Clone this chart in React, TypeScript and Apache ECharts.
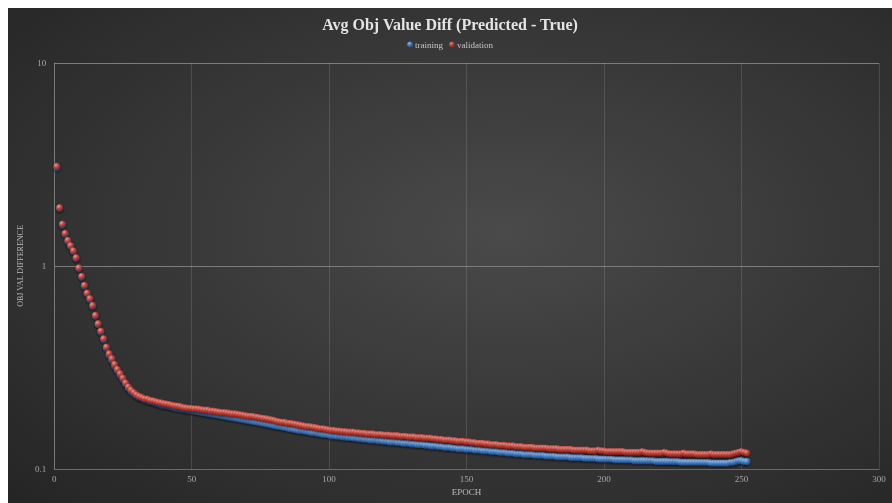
import React, { useEffect, useRef } from "react";
import * as echarts from "echarts";

const titleText = "Avg Obj Value Diff (Predicted - True)";
const seriesNames = ["training", "validation"];
const xTicks = { min: 0, max: 300, interval: 50 };
const yRange = { min: 0.1, max: 10 };

const validation = [
  3.10, 1.94, 1.61, 1.45, 1.34, 1.26, 1.19, 1.10, 0.98, 0.89,
  0.804, 0.736, 0.691, 0.640, 0.572, 0.520, 0.478, 0.439, 0.399, 0.370,
  0.350, 0.328, 0.310, 0.295, 0.281, 0.266, 0.254, 0.245, 0.238, 0.232,
  0.228, 0.225, 0.222, 0.221, 0.218, 0.217, 0.215, 0.213, 0.212, 0.210,
  0.209, 0.208, 0.206, 0.205, 0.204, 0.203, 0.201, 0.200, 0.199, 0.199,
  0.198, 0.198, 0.197, 0.196, 0.195, 0.195, 0.193, 0.193, 0.192, 0.191,
  0.190, 0.190, 0.189, 0.188, 0.187, 0.187, 0.186, 0.185, 0.184, 0.183,
  0.182, 0.182, 0.181, 0.180, 0.179, 0.178, 0.177, 0.176, 0.175, 0.174,
  0.172, 0.171, 0.170, 0.170, 0.168, 0.168, 0.167, 0.166, 0.165, 0.164,
  0.163, 0.162, 0.162, 0.161, 0.160, 0.159, 0.158, 0.158, 0.157, 0.156,
  0.155, 0.155, 0.154, 0.154, 0.153, 0.153, 0.152, 0.152, 0.152, 0.151,
  0.151, 0.150, 0.150, 0.149, 0.149, 0.149, 0.148, 0.148, 0.148, 0.147,
  0.147, 0.147, 0.146, 0.146, 0.146, 0.145, 0.145, 0.145, 0.144, 0.144,
  0.144, 0.143, 0.143, 0.143, 0.142, 0.142, 0.142, 0.141, 0.141, 0.140,
  0.140, 0.139, 0.139, 0.139, 0.138, 0.138, 0.137, 0.137, 0.137, 0.136,
  0.136, 0.135, 0.135, 0.134, 0.134, 0.134, 0.133, 0.133, 0.132, 0.132,
  0.132, 0.131, 0.131, 0.131, 0.130, 0.130, 0.130, 0.129, 0.129, 0.129,
  0.128, 0.128, 0.128, 0.128, 0.127, 0.127, 0.127, 0.127, 0.127, 0.126,
  0.126, 0.126, 0.126, 0.125, 0.125, 0.125, 0.125, 0.125, 0.124, 0.124,
  0.124, 0.124, 0.124, 0.124, 0.123, 0.123, 0.123, 0.124, 0.123, 0.123,
  0.122, 0.122, 0.122, 0.122, 0.122, 0.122, 0.122, 0.121, 0.121, 0.121,
  0.121, 0.121, 0.121, 0.122, 0.121, 0.120, 0.120, 0.120, 0.120, 0.120,
  0.120, 0.121, 0.120, 0.119, 0.119, 0.119, 0.119, 0.119, 0.120, 0.119,
  0.119, 0.119, 0.119, 0.118, 0.118, 0.118, 0.118, 0.118, 0.119, 0.118,
  0.118, 0.118, 0.118, 0.118, 0.118, 0.118, 0.119, 0.120, 0.121, 0.122,
  0.121, 0.120,
];

const training = [
  3.05, 1.92, 1.59, 1.43, 1.32, 1.25, 1.18, 1.09, 0.97, 0.88,
  0.795, 0.728, 0.683, 0.632, 0.565, 0.514, 0.472, 0.433, 0.393, 0.363,
  0.343, 0.322, 0.305, 0.290, 0.276, 0.262, 0.250, 0.241, 0.234, 0.229,
  0.225, 0.222, 0.219, 0.217, 0.215, 0.213, 0.211, 0.209, 0.207, 0.206,
  0.205, 0.203, 0.202, 0.200, 0.199, 0.198, 0.197, 0.196, 0.195, 0.194,
  0.193, 0.192, 0.191, 0.190, 0.189, 0.188, 0.187, 0.186, 0.185, 0.184,
  0.183, 0.182, 0.181, 0.180, 0.179, 0.178, 0.177, 0.176, 0.175, 0.174,
  0.173, 0.172, 0.171, 0.170, 0.169, 0.168, 0.167, 0.166, 0.165, 0.164,
  0.163, 0.162, 0.161, 0.160, 0.159, 0.158, 0.157, 0.156, 0.155, 0.155,
  0.154, 0.153, 0.152, 0.151, 0.151, 0.150, 0.149, 0.148, 0.148, 0.147,
  0.146, 0.146, 0.145, 0.145, 0.144, 0.144, 0.143, 0.143, 0.142, 0.142,
  0.141, 0.141, 0.140, 0.140, 0.139, 0.139, 0.139, 0.138, 0.138, 0.137,
  0.137, 0.136, 0.136, 0.136, 0.135, 0.135, 0.134, 0.134, 0.134, 0.133,
  0.133, 0.132, 0.132, 0.132, 0.131, 0.131, 0.130, 0.130, 0.130, 0.129,
  0.129, 0.128, 0.128, 0.128, 0.127, 0.127, 0.126, 0.126, 0.126, 0.125,
  0.125, 0.125, 0.124, 0.124, 0.124, 0.123, 0.123, 0.123, 0.122, 0.122,
  0.122, 0.121, 0.121, 0.121, 0.120, 0.120, 0.120, 0.119, 0.119, 0.119,
  0.118, 0.118, 0.118, 0.118, 0.117, 0.117, 0.117, 0.117, 0.116, 0.116,
  0.116, 0.116, 0.115, 0.115, 0.115, 0.115, 0.115, 0.114, 0.114, 0.114,
  0.114, 0.114, 0.113, 0.113, 0.113, 0.113, 0.113, 0.112, 0.112, 0.112,
  0.112, 0.112, 0.112, 0.111, 0.111, 0.111, 0.111, 0.111, 0.111, 0.111,
  0.110, 0.110, 0.110, 0.110, 0.110, 0.110, 0.110, 0.110, 0.109, 0.109,
  0.109, 0.109, 0.109, 0.109, 0.109, 0.109, 0.109, 0.108, 0.108, 0.108,
  0.108, 0.108, 0.108, 0.108, 0.108, 0.108, 0.108, 0.108, 0.107, 0.107,
  0.107, 0.107, 0.107, 0.107, 0.107, 0.108, 0.108, 0.109, 0.110, 0.110,
  0.109, 0.109,
];

const toPairs = (vals: number[]) => vals.map((v, i) => [i + 1, v]);

const ball = (hi: string, mid: string, lo: string) =>
  new echarts.graphic.RadialGradient(0.35, 0.3, 0.75, [
    { offset: 0, color: hi },
    { offset: 0.45, color: mid },
    { offset: 1, color: lo },
  ]);

export default function App() {
  const ref = useRef<HTMLDivElement>(null);
  useEffect(() => {
    if (!ref.current) return;
    const chart = echarts.init(ref.current, undefined, { renderer: "svg" });
    const font = "'Liberation Serif', 'DejaVu Serif', serif";
    const blueBall = ball("#b4d4f7", "#4f8cd8", "#1d4d8e");
    const redBall = ball("#f6aaa2", "#d0473d", "#861d17");
    chart.setOption({
      animation: false,
      backgroundColor: new echarts.graphic.RadialGradient(0.56, 0.45, 0.9, [
        { offset: 0, color: "#4a4a4a" },
        { offset: 1, color: "#1f1f1f" },
      ]),
      textStyle: { fontFamily: font },
      title: {
        text: titleText,
        left: "center",
        top: 3,
        textStyle: {
          color: "#e4e4e4",
          fontSize: 16,
          fontWeight: "bold",
          fontFamily: font,
        },
      },
      legend: {
        top: 27,
        left: "center",
        itemWidth: 6,
        itemHeight: 6,
        itemGap: 6,
        icon: "circle",
        textStyle: { color: "#c4c4c4", fontSize: 9, fontFamily: font, padding: [0, 0, 0, -3] },
        data: [
          { name: seriesNames[0], itemStyle: { color: blueBall } },
          { name: seriesNames[1], itemStyle: { color: redBall } },
        ],
      },
      grid: { left: 44, right: 13, top: 55, bottom: 34, containLabel: false },
      xAxis: {
        type: "value",
        min: xTicks.min,
        max: xTicks.max,
        interval: xTicks.interval,
        name: "EPOCH",
        nameLocation: "middle",
        nameGap: 15,
        nameTextStyle: { color: "#bdbdbd", fontSize: 9, fontFamily: font },
        axisLine: { show: true, lineStyle: { color: "#6a6a6a", width: 1 } },
        axisTick: { show: false },
        axisLabel: { color: "#a8a8a8", fontSize: 9, margin: 5, fontFamily: font },
        splitLine: { show: true, lineStyle: { color: "rgba(255,255,255,0.13)", width: 1 } },
      },
      yAxis: {
        type: "log",
        logBase: 10,
        min: yRange.min,
        max: yRange.max,
        name: "OBJ VAL DIFFERENCE",
        nameLocation: "middle",
        nameGap: 26,
        nameTextStyle: { color: "#bdbdbd", fontSize: 8, fontFamily: font },
        axisLine: { show: true, lineStyle: { color: "#7a7a7a", width: 1 } },
        axisTick: { show: false },
        axisLabel: { color: "#a8a8a8", fontSize: 9, margin: 8, fontFamily: font },
        splitLine: { show: true, lineStyle: { color: "#7c7c7c", width: 1 } },
        minorSplitLine: { show: false },
      },
      series: [
        {
          name: seriesNames[0],
          type: "scatter",
          symbol: "circle",
          symbolSize: 7,
          data: toPairs(training),
          itemStyle: {
            color: blueBall,
            shadowBlur: 2,
            shadowColor: "rgba(0,0,0,0.6)",
            shadowOffsetY: 1,
          },
        },
        {
          name: seriesNames[1],
          type: "scatter",
          symbol: "circle",
          symbolSize: 7,
          data: toPairs(validation),
          itemStyle: {
            color: redBall,
            shadowBlur: 2,
            shadowColor: "rgba(0,0,0,0.6)",
            shadowOffsetY: 1,
          },
        },
      ],
    });
    return () => chart.dispose();
  }, []);
  return (
    <div
      ref={ref}
      style={{ position: "fixed", left: 8, top: 8, width: 884, height: 495 }}
    />
  );
}
